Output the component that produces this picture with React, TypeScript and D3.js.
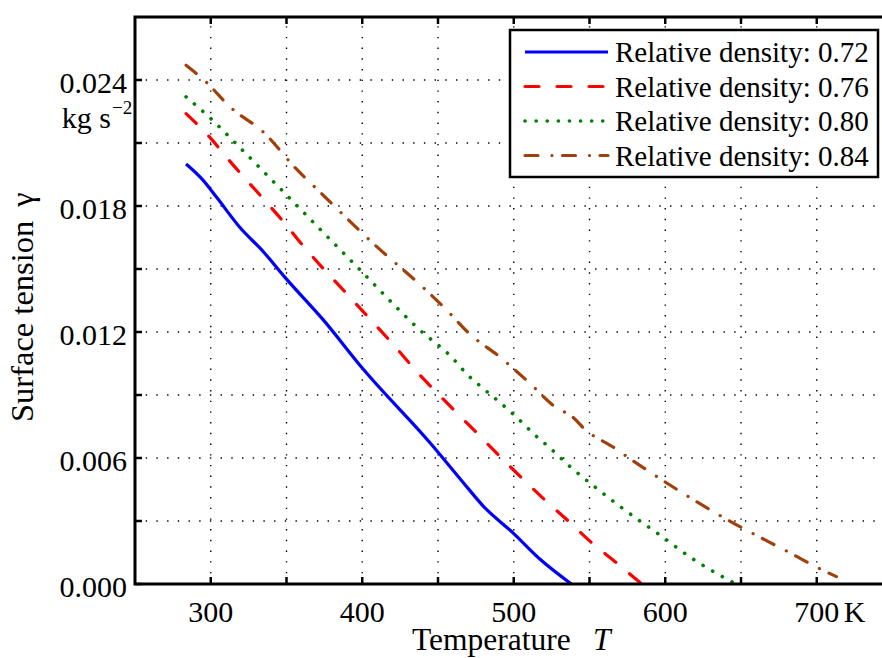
import React from "react";
import * as d3 from "d3";

const seriesNames = ["Relative density: 0.72", "Relative density: 0.76", "Relative density: 0.80", "Relative density: 0.84"];
const seriesColors = ["#0000FF", "#FF0000", "#008000", "#A0400A"];

const blueT = [283.7, 294, 304, 319, 335, 349, 374, 401, 445, 467, 480, 500, 517, 538];
const blueG = [0.0200, 0.0193, 0.0184, 0.0170, 0.0158, 0.0146, 0.0126, 0.0102, 0.0067, 0.0048, 0.0037, 0.0024, 0.0012, 0.0];

const redT = [283.7, 299, 313, 334, 348, 361, 390, 418, 440, 453.5, 475.5, 497.5, 520.6, 536, 552.5, 568, 584.4];
const redG = [0.0224, 0.0213, 0.0201, 0.0184, 0.01725, 0.0161, 0.0138, 0.0116, 0.0098, 0.0088, 0.0072, 0.0056, 0.0040, 0.0030, 0.0019, 0.0010, 0.0];

const greenT = [283.7, 299.5, 319, 349, 398, 438, 459, 469, 480, 490, 501, 517, 522, 537, 554, 570, 599, 616, 634, 646.7];
const greenG = [0.0232, 0.0222, 0.0208, 0.0186, 0.0150, 0.0121, 0.0108, 0.0100, 0.0093, 0.0087, 0.0080, 0.0069, 0.0066, 0.0056, 0.0046, 0.0037, 0.0022, 0.0013, 0.0005, 0.0];

const brownT = [283.7, 297, 313, 335, 356, 373, 409, 439, 455, 471, 491, 510, 528, 538, 548, 566, 578, 599, 640, 684.5, 700, 713];
const brownG = [0.0247, 0.0239, 0.0227, 0.0215, 0.0198, 0.0186, 0.0161, 0.0142, 0.0131, 0.0119, 0.0108, 0.0096, 0.0084, 0.0080, 0.0073, 0.0065, 0.0059, 0.0049, 0.0031, 0.0014, 0.0008, 0.00035];

const xTicks = [300, 350, 400, 450, 500, 550, 600, 650, 700];
const xTickLabels = ["300", "", "400", "", "500", "", "600", "", "700"];
const yTicks = [0, 0.003, 0.006, 0.009, 0.012, 0.015, 0.018, 0.021, 0.024];
const yTickLabels = ["0.000", "", "0.006", "", "0.012", "", "0.018", "", "0.024"];

const seriesT = [blueT, redT, greenT, brownT];
const seriesG = [blueG, redG, greenG, brownG];
const dashes = ["none", "14 18", "0.1 11", "13 13.9 0.1 10.5"];

const FONT = "'Liberation Serif', 'Times New Roman', serif";

export default function App() {
  const x = d3.scaleLinear().domain([250, 750]).range([135, 892.5]);
  const y = d3.scaleLinear().domain([0, 0.027]).range([584, 17]);
  const line = d3.line<[number, number]>().x((d) => x(d[0])).y((d) => y(d[1])).curve(d3.curveMonotoneX);

  const legendRows = [52, 86.5, 121, 155.5];

  return (
    <svg width={882} height={658} style={{ position: "absolute", left: 0, top: 0, background: "#fff" }} fontFamily={FONT}>
      <rect x={0} y={0} width={882} height={658} fill="#fff" />
      {/* grid */}
      {xTicks.map((t) => (
        <line key={"gx" + t} x1={x(t)} x2={x(t)} y1={y(0)} y2={y(0.027)} stroke="#000" strokeWidth={1.4} strokeDasharray="1.4 9.3" />
      ))}
      {yTicks.filter((t) => t > 0).map((t) => (
        <line key={"gy" + t} x1={x(250)} x2={x(750)} y1={y(t)} y2={y(t)} stroke="#000" strokeWidth={1.4} strokeDasharray="1.4 9.3" />
      ))}
      {/* series */}
      {seriesT.map((ts, i) => {
        const pts: [number, number][] = ts.map((t, j) => [t, seriesG[i][j]]);
        return (
          <path key={"s" + i} d={line(pts) || ""} fill="none" stroke={seriesColors[i]} strokeWidth={i === 2 ? 3.6 : 3.2}
            strokeDasharray={dashes[i]} strokeLinecap={i === 0 ? "butt" : "round"} strokeLinejoin="round" />
        );
      })}
      {/* frame */}
      <rect x={x(250)} y={y(0.027)} width={x(750) - x(250)} height={y(0) - y(0.027)} fill="none" stroke="#000" strokeWidth={3} />
      {/* ticks */}
      {xTicks.map((t) => (
        <g key={"tx" + t}>
          <line x1={x(t)} x2={x(t)} y1={y(0)} y2={y(0) - 7} stroke="#000" strokeWidth={2.5} />
          <line x1={x(t)} x2={x(t)} y1={y(0.027)} y2={y(0.027) + 7} stroke="#000" strokeWidth={2.5} />
        </g>
      ))}
      {yTicks.map((t) => (
        <line key={"ty" + t} x1={x(250)} x2={x(250) + 7} y1={y(t)} y2={y(t)} stroke="#000" strokeWidth={2.5} />
      ))}
      {/* tick labels */}
      {xTicks.map((t, i) => xTickLabels[i] ? (
        <text key={"lx" + t} x={x(t)} y={622} textAnchor="middle" fontSize={30}>{xTickLabels[i]}</text>
      ) : null)}
      <text x={x(700) + 27} y={622} fontSize={30}>K</text>
      {yTicks.map((t, i) => yTickLabels[i] ? (
        <text key={"ly" + t} x={127} y={y(t) + 12.5} textAnchor="end" fontSize={30}>{yTickLabels[i]}</text>
      ) : null)}
      <text x={111} y={128} textAnchor="end" fontSize={30}>kg s</text>
      <text x={112} y={114} fontSize={19}>−2</text>
      {/* axis labels */}
      <text x={412} y={650} fontSize={31.5}>Temperature</text>
      <text x={593} y={650} fontSize={31.5} fontStyle="italic">T</text>
      <text transform="translate(33,422) rotate(-90)" fontSize={32.5}>Surface tension<tspan dx={14}>γ</tspan></text>
      {/* legend */}
      <rect x={510} y={30} width={368} height={147} fill="#fff" stroke="#000" strokeWidth={2.5} />
      {seriesNames.map((n, i) => (
        <g key={"lg" + i}>
          <line x1={525} x2={608} y1={legendRows[i]} y2={legendRows[i]} stroke={seriesColors[i]} strokeWidth={i === 2 ? 3.6 : 3.2}
            strokeDasharray={dashes[i]} strokeLinecap={i === 0 ? "butt" : "round"} />
          <text x={615} y={legendRows[i] + 10} fontSize={29}>{n}</text>
        </g>
      ))}
    </svg>
  );
}
